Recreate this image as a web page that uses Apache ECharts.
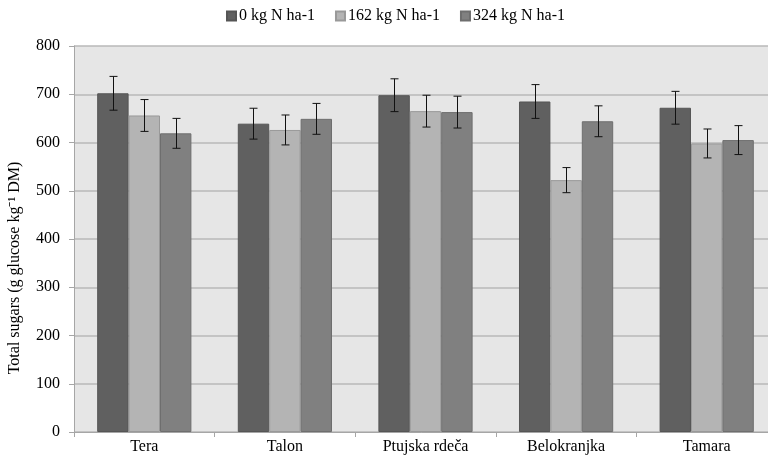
<!DOCTYPE html>
<html>
<head>
<meta charset="utf-8">
<script src="https://cdn.jsdelivr.net/npm/echarts@6/dist/echarts.min.js"></script>
<style>html,body{margin:0;padding:0;background:#fff}#c{width:768px;height:459px}</style>
</head>
<body>
<div id="c"></div>
<script>
var categories = ['Tera', 'Talon', 'Ptujska rdeča', 'Belokranjka', 'Tamara'];
var seriesNames = ['0 kg N ha-1', '162 kg N ha-1', '324 kg N ha-1'];
var values0 = [702, 639, 698, 685, 672];
var values162 = [656, 626, 665, 522, 598];
var values324 = [619, 649, 663, 644, 605];
var err0 = [35, 32, 34, 35, 34];
var err162 = [33, 31, 33, 26, 30];
var err324 = [31, 32, 33, 32, 30];
var yTicks = [0, 100, 200, 300, 400, 500, 600, 700, 800];

var colors = ['#606060', '#b4b4b4', '#808080'];
var borders = ['#555555', '#999999', '#6e6e6e'];
var allValues = [values0, values162, values324];
var allErr = [err0, err162, err324];
var FONT = 'Liberation Serif';
var catGap = 0.33;

var chart = echarts.init(document.getElementById('c'));
var series = [];
allValues.forEach(function (vals, si) {
  series.push({
    name: seriesNames[si],
    type: 'bar',
    data: vals,
    barGap: '0%',
    barCategoryGap: '33%',
    itemStyle: { color: colors[si], borderColor: borders[si], borderWidth: 1 },
    emphasis: { disabled: true },
    z: 2
  });
});
allValues.forEach(function (vals, si) {
  var data = vals.map(function (v, i) { return [i, v - allErr[si][i], v + allErr[si][i]]; });
  series.push({
    type: 'custom',
    data: data,
    z: 5,
    silent: true,
    renderItem: function (params, api) {
      var idx = api.value(0);
      var lo = api.coord([idx, api.value(1)]);
      var hi = api.coord([idx, api.value(2)]);
      var catW = api.size([1, 0])[0];
      var barW = catW * (1 - catGap) / 3;
      var x = Math.round(lo[0] + (si - 1) * barW) + 0.5;
      var cap = 4;
      var st = { stroke: '#111', lineWidth: 1 };
      return {
        type: 'group',
        children: [
          { type: 'line', shape: { x1: x, y1: hi[1], x2: x, y2: lo[1] }, style: st },
          { type: 'line', shape: { x1: x - cap, y1: hi[1], x2: x + cap, y2: hi[1] }, style: st },
          { type: 'line', shape: { x1: x - cap, y1: lo[1], x2: x + cap, y2: lo[1] }, style: st }
        ]
      };
    }
  });
});

chart.setOption({
  animation: false,
  textStyle: { fontFamily: FONT },
  color: colors,
  legend: {
    data: seriesNames,
    top: 3,
    left: 221,
    itemWidth: 9,
    itemHeight: 9,
    itemGap: 20,
    icon: 'rect',
    textStyle: { fontFamily: FONT, fontSize: 16, color: '#000', padding: [0, 0, 0, -2] }
  },
  grid: {
    left: 74, top: 46, width: 703, height: 386,
    outerBoundsMode: 'none',
    show: true, backgroundColor: '#e6e6e6', borderWidth: 0, containLabel: false
  },
  xAxis: {
    type: 'category',
    data: categories,
    axisLine: { show: true, lineStyle: { color: '#a6a6a6', width: 1 } },
    axisTick: { show: true, length: 5, alignWithLabel: false, lineStyle: { color: '#a6a6a6' } },
    axisLabel: { color: '#000', fontSize: 16, fontFamily: FONT, margin: 7 },
    splitLine: { show: false }
  },
  yAxis: {
    type: 'value',
    min: yTicks[0],
    max: yTicks[yTicks.length - 1],
    interval: yTicks[1] - yTicks[0],
    name: 'Total sugars (g glucose kg⁻¹ DM)',
    nameLocation: 'middle',
    nameGap: 51,
    nameTextStyle: { color: '#000', fontSize: 16, fontFamily: FONT, padding: [0, 58, 0, 0] },
    axisLine: { show: true, lineStyle: { color: '#a6a6a6', width: 1 } },
    axisTick: { show: true, length: 5, lineStyle: { color: '#a6a6a6' } },
    axisLabel: { color: '#000', fontSize: 16, fontFamily: FONT, margin: 14 },
    splitLine: { show: true, lineStyle: { color: '#b8b8b8', width: 1.5 } }
  },
  series: series
});
</script>
</body>
</html>
